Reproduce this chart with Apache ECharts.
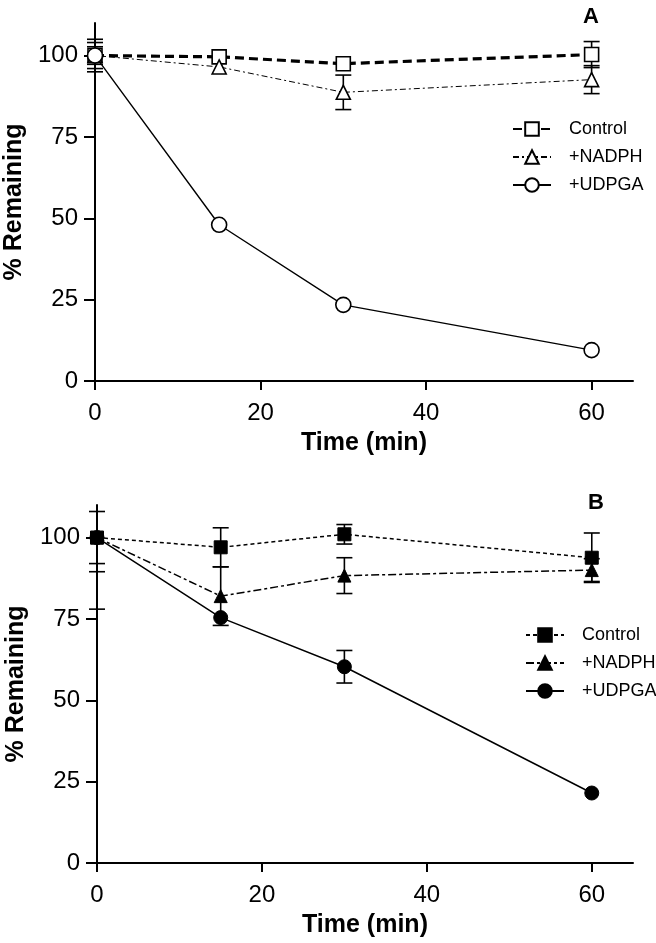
<!DOCTYPE html>
<html><head><meta charset="utf-8">
<script src="https://cdn.jsdelivr.net/npm/echarts@6/dist/echarts.min.js"></script>
<style>html,body{margin:0;padding:0;background:#fff}#c{width:656px;height:943px}</style>
</head><body><div id="c"></div>
<script>
// ---- data ----
const times = [0, 15, 30, 60];
const xTicks = [0, 20, 40, 60];
const yTicks = [0, 25, 50, 75, 100];
const seriesNames = ['Control', '+NADPH', '+UDPGA'];

// Panel A (open symbols); error 0 = bar hidden behind symbol
const controlA = [100, 99.6, 97.5, 100.3];
const controlAErr = [4, 0, 0, 4];
const nadphA = [100, 96.5, 88.7, 92.6];
const nadphAErr = [5, 0, 5.3, 4.3];
const udpgaA = [100, 48, 23.4, 9.5];
const udpgaAErr = [2.7, 0, 0, 0];

// Panel B (filled symbols)
const controlB = [100, 97, 101, 93.8];
const controlBErr = [8, 6, 3, 7.6];
const nadphB = [100, 82, 88.3, 90];
const nadphBErr = [10.5, 9, 5.5, 3.5];
const udpgaB = [100, 75.4, 60.3, 21.5];
const udpgaBErr = [22, 0, 5, 0];

const Y_MAX = 110, X_MAX = 65;
const FONT = "'Liberation Sans', Arial, Helvetica, sans-serif";

function pts(v) { return times.map((t, i) => [t, v[i]]); }
function errPts(v, e) { return times.map((t, i) => [t, v[i] - e[i], v[i] + e[i]]); }

function errRender(params, api) {
  const x = api.value(0), lo = api.value(1), hi = api.value(2);
  if (hi - lo <= 0) return null;
  const hiC = Math.min(hi, Y_MAX);
  const pLo = api.coord([x, lo]);
  const pHi = api.coord([x, hiC]);
  const w = 8;
  const st = { stroke: '#000', lineWidth: 1.6 };
  const ch = [
    { type: 'line', shape: { x1: pLo[0], y1: pLo[1], x2: pHi[0], y2: pHi[1] }, style: st },
    { type: 'line', shape: { x1: pLo[0] - w, y1: pLo[1], x2: pLo[0] + w, y2: pLo[1] }, style: st }
  ];
  if (hi <= Y_MAX) ch.push({ type: 'line', shape: { x1: pHi[0] - w, y1: pHi[1], x2: pHi[0] + w, y2: pHi[1] }, style: st });
  return { type: 'group', children: ch };
}

function xAxis(grid) {
  return {
    type: 'value', gridIndex: grid, min: 0, max: X_MAX, interval: 20,
    name: 'Time (min)', nameLocation: 'middle', nameGap: 50,
    nameTextStyle: { fontFamily: FONT, fontWeight: 'bold', fontSize: 25, color: '#000' },
    axisLine: { lineStyle: { color: '#000', width: 2 } },
    axisTick: { length: 9, lineStyle: { color: '#000', width: 2 }, customValues: xTicks },
    axisLabel: { fontFamily: FONT, fontSize: 24, color: '#000', margin: 20, customValues: xTicks },
    splitLine: { show: false }
  };
}
function yAxis(grid) {
  return {
    type: 'value', gridIndex: grid, min: 0, max: Y_MAX, interval: 25,
    name: '% Remaining', nameLocation: 'middle', nameGap: 66,
    nameTextStyle: { fontFamily: FONT, fontWeight: 'bold', fontSize: 25, color: '#000' },
    axisLine: { onZero: false, lineStyle: { color: '#000', width: 2 } },
    axisTick: { length: 11, lineStyle: { color: '#000', width: 2 }, customValues: yTicks },
    axisLabel: { fontFamily: FONT, fontSize: 24, color: '#000', margin: 17, customValues: yTicks },
    splitLine: { show: false }
  };
}

const openStyle = { color: '#fff', borderColor: '#000', borderWidth: 1.6 };
const fillStyle = { color: '#000', borderColor: '#000', borderWidth: 1 };

const linesA = [
  { name: seriesNames[0], data: controlA, err: controlAErr, symbol: 'rect', size: 14, ls: { width: 3.2, type: [9, 5] } },
  { name: seriesNames[1], data: nadphA, err: nadphAErr, symbol: 'triangle', size: 14, ls: { width: 1, type: [6, 3, 2, 3] } },
  { name: seriesNames[2], data: udpgaA, err: udpgaAErr, symbol: 'circle', size: 15, ls: { width: 1.4, type: 'solid' } }
];
const linesB = [
  { name: seriesNames[0] + '\u200b', data: controlB, err: controlBErr, symbol: 'rect', size: 13, ls: { width: 1.5, type: [4, 3] } },
  { name: seriesNames[1] + '\u200b', data: nadphB, err: nadphBErr, symbol: 'triangle', size: 13, ls: { width: 1.5, type: [8, 3, 3, 3] } },
  { name: seriesNames[2] + '\u200b', data: udpgaB, err: udpgaBErr, symbol: 'circle', size: 14, ls: { width: 1.5, type: 'solid' } }
];

const series = [];
function addPanel(defs, idx, item) {
  defs.forEach(d => {
    series.push({
      type: 'custom', xAxisIndex: idx, yAxisIndex: idx, renderItem: errRender,
      data: errPts(d.data, d.err), encode: { x: 0, y: [1, 2] }, z: 2, silent: true
    });
  });
  defs.forEach(d => {
    series.push({
      type: 'line', name: d.name, xAxisIndex: idx, yAxisIndex: idx, data: pts(d.data),
      symbol: d.symbol, symbolSize: d.size, showAllSymbol: true,
      lineStyle: Object.assign({ color: '#000' }, d.ls), itemStyle: item, z: 3, animation: false
    });
  });
}
addPanel(linesA, 0, openStyle);
addPanel(linesB, 1, fillStyle);

function legend(names, left, top) {
  return {
    data: names, orient: 'vertical', left: left, top: top, itemWidth: 38, itemHeight: 17, itemGap: 10,
    selectedMode: false, formatter: n => n.replace('\u200b', ''),
    textStyle: { fontFamily: FONT, fontSize: 18, color: '#000', padding: [0, 0, 0, 13] }
  };
}

const chart = echarts.init(document.getElementById('c'), null, { renderer: 'canvas' });
chart.setOption({
  animation: false,
  backgroundColor: '#fff',
  title: [
    { text: 'A', left: 578, top: 1, textStyle: { fontFamily: FONT, fontWeight: 'bold', fontSize: 22, color: '#000' } },
    { text: 'B', left: 583, top: 487, textStyle: { fontFamily: FONT, fontWeight: 'bold', fontSize: 22, color: '#000' } }
  ],
  grid: [
    { left: 95, right: 23, top: 23, height: 358, outerBoundsMode: 'none', containLabel: false },
    { left: 97, right: 23, top: 505, height: 358, outerBoundsMode: 'none', containLabel: false }
  ],
  xAxis: [xAxis(0), xAxis(1)],
  yAxis: [yAxis(0), yAxis(1)],
  legend: [legend(linesA.map(d => d.name), 507, 115), legend(linesB.map(d => d.name), 520, 621)],
  series: series
});
</script></body></html>
